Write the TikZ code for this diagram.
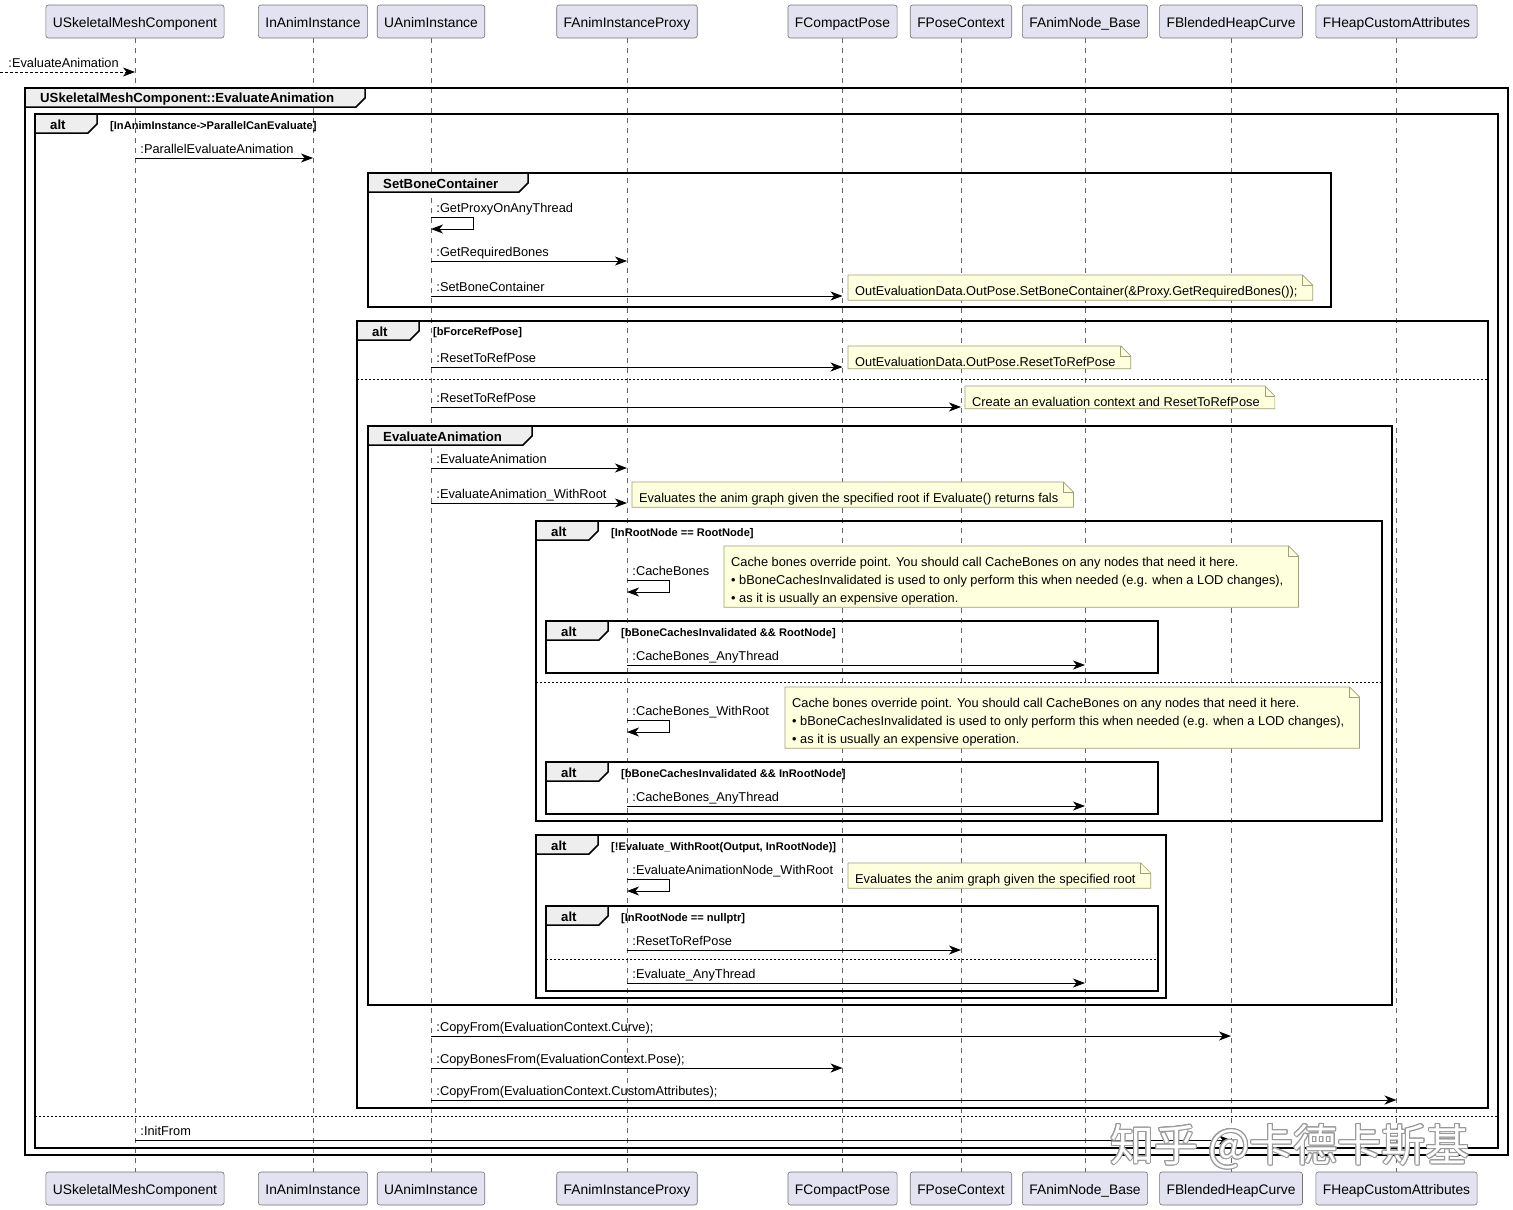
\documentclass[tikz,border=0pt]{standalone}
\usepackage{fontspec}
\setmainfont{Liberation Sans}
\newfontfamily\cjkfont{Noto Sans CJK SC}
\usepackage{contour}
\usetikzlibrary{arrows.meta}

\definecolor{partfill}{HTML}{E2E2F0}
\definecolor{notefill}{HTML}{FEFFDD}
\definecolor{notedraw}{HTML}{A0A078}
\definecolor{tabfill}{HTML}{EEEEEE}

\pgfdeclarelayer{lines}
\pgfdeclarelayer{notes}
\pgfsetlayers{lines,notes,main}

\newcommand{\partfont}{\fontsize{13.8}{16}\selectfont}
\newcommand{\msgfont}{\fontsize{12.8}{15}\selectfont}
\newcommand{\notefont}{\fontsize{12.8}{18}\selectfont}
\newcommand{\tabfont}{\bfseries\fontsize{13.2}{15}\selectfont}
\newcommand{\condfont}{\bfseries\fontsize{11.1}{13}\selectfont}

\tikzset{
    part/.style={draw=black!55, line width=0.6pt, fill=partfill, rounded corners=2.5pt, minimum height=33pt, inner xsep=7pt, inner ysep=0pt, text height=13pt, text depth=1pt, font=\partfont},
    lifeline/.style={draw=black!60, line width=0.7pt, dash pattern=on 5pt off 5pt},
    msg/.style={-{Stealth[length=12pt, width=9pt, inset=3.5pt]}, line width=0.9pt},
    lbl/.style={anchor=base west, inner sep=0pt, xshift=5pt, yshift=5pt, font=\msgfont},
    grpframe/.style={line width=1.5pt},
    grptab/.style={line width=1.5pt, fill=tabfill},
    tablabel/.style={anchor=west, inner sep=0pt, font=\tabfont},
    cond/.style={anchor=west, inner sep=0pt, yshift=-1.5pt, font=\condfont},
    elseline/.style={line width=0.8pt, dash pattern=on 2pt off 2pt},
    note/.style={anchor=north west, inner xsep=7pt, inner ysep=6.5pt, yshift=-4.5pt, align=left, font=\notefont},
    notebox/.style={draw=notedraw, line width=0.7pt, fill=notefill},
}

\newcommand{\grouptab}[5]{%
    \draw [grptab] (#1,#2) -- ++(#3,0) -- ++(0,10) -- ++(-9,9) -- (#1,#2+19) -- cycle;
    \node [tablabel] (#4) at (#1+15,#2+11) {#5};}

\newcommand{\dogear}[1]{%
    \begin{pgfonlayer}{notes}
        \draw [notebox] ([yshift=4.5pt]#1.south west) -- ([yshift=4.5pt]#1.north west) -- ([xshift=-2pt,yshift=4.5pt]#1.north east) -- ([xshift=8pt,yshift=-5.5pt]#1.north east) -- ([xshift=8pt,yshift=4.5pt]#1.south east) -- cycle;
        \draw [notebox, fill=none] ([xshift=-2pt,yshift=4.5pt]#1.north east) |- ([xshift=8pt,yshift=-5.5pt]#1.north east);
    \end{pgfonlayer}}

\contourlength{1pt}

\begin{document}
\begin{tikzpicture}[x=1pt, y=-1pt]
    \useasboundingbox (0,0) rectangle (1513,1210);

    \node [part] (mesh) at (135,21.5) {USkeletalMeshComponent};
    \node [part] (inst) at (313,21.5) {InAnimInstance};
    \node [part] (anim) at (431,21.5) {UAnimInstance};
    \node [part] (proxy) at (627,21.5) {FAnimInstanceProxy};
    \node [part] (pose) at (842.5,21.5) {FCompactPose};
    \node [part] (ctx) at (961,21.5) {FPoseContext};
    \node [part] (anode) at (1085,21.5) {FAnimNode\_Base};
    \node [part] (curve) at (1231,21.5) {FBlendedHeapCurve};
    \node [part] (attr) at (1396.5,21.5) {FHeapCustomAttributes};

    \node [part] (meshb) at (135,1188.5) {USkeletalMeshComponent};
    \node [part] (instb) at (313,1188.5) {InAnimInstance};
    \node [part] (animb) at (431,1188.5) {UAnimInstance};
    \node [part] (proxyb) at (627,1188.5) {FAnimInstanceProxy};
    \node [part] (poseb) at (842.5,1188.5) {FCompactPose};
    \node [part] (ctxb) at (961,1188.5) {FPoseContext};
    \node [part] (anodeb) at (1085,1188.5) {FAnimNode\_Base};
    \node [part] (curveb) at (1231,1188.5) {FBlendedHeapCurve};
    \node [part] (attrb) at (1396.5,1188.5) {FHeapCustomAttributes};

    \begin{pgfonlayer}{lines}
        \draw [lifeline] (mesh) -- (meshb);
        \draw [lifeline] (inst) -- (instb);
        \draw [lifeline] (anim) -- (animb);
        \draw [lifeline] (proxy) -- (proxyb);
        \draw [lifeline] (pose) -- (poseb);
        \draw [lifeline] (ctx) -- (ctxb);
        \draw [lifeline] (anode) -- (anodeb);
        \draw [lifeline] (curve) -- (curveb);
        \draw [lifeline] (attr) -- (attrb);
    \end{pgfonlayer}

    \coordinate (src) at (0,72);
    \draw [msg, dash pattern=on 3pt off 2pt] (src) -- node [lbl, pos=0, xshift=3pt] {:EvaluateAnimation} (mesh |- src);

    \draw [grpframe] (25,88) rectangle (1508,1155);
    \grouptab{25}{88}{340}{g0}{USkeletalMeshComponent::EvaluateAnimation}

    \draw [grpframe] (35,114) rectangle (1498,1148);
    \grouptab{35}{114}{62}{alt1}{alt}
    \node [cond] (c1) at (110,125) {[InAnimInstance->ParallelCanEvaluate]};
    \draw [elseline] (35,1116) -- (1498,1116);

    \draw [msg] (mesh |- 0,158) -- node [lbl, pos=0] {:ParallelEvaluateAnimation} (inst |- 0,158);

    \draw [grpframe] (368,173) rectangle (1331,307);
    \grouptab{368}{173}{160}{g1}{SetBoneContainer}

    \draw [msg] (anim |- 0,217) node [lbl] {:GetProxyOnAnyThread} -- ++(42,0) -- ++(0,12) -- (anim |- 0,229);
    \draw [msg] (anim |- 0,261) -- node [lbl, pos=0] {:GetRequiredBones} (proxy |- 0,261);
    \draw [msg] (anim |- 0,296) -- node [lbl, pos=0] {:SetBoneContainer} (pose |- 0,296);
    \node [note] (n1) at (848,275) {OutEvaluationData.OutPose.SetBoneContainer(\&Proxy.GetRequiredBones());};
    \dogear{n1}

    \draw [grpframe] (357,321) rectangle (1488,1108);
    \grouptab{357}{321}{62}{alt2}{alt}
    \node [cond] (c2) at (433,331) {[bForceRefPose]};
    \draw [elseline] (357,379) -- (1488,379);

    \draw [msg] (anim |- 0,367) -- node [lbl, pos=0] {:ResetToRefPose} (pose |- 0,367);
    \node [note] (n2) at (848,346) {OutEvaluationData.OutPose.ResetToRefPose};
    \dogear{n2}
    \draw [msg] (anim |- 0,407) -- node [lbl, pos=0] {:ResetToRefPose} (ctx |- 0,407);
    \node [note] (n3) at (965,386) {Create an evaluation context and ResetToRefPose};
    \dogear{n3}

    \draw [grpframe] (368,426) rectangle (1392,1005);
    \grouptab{368}{426}{164}{g2}{EvaluateAnimation}

    \draw [msg] (anim |- 0,468) -- node [lbl, pos=0] {:EvaluateAnimation} (proxy |- 0,468);
    \draw [msg] (anim |- 0,503) -- node [lbl, pos=0] {:EvaluateAnimation\_WithRoot} (proxy |- 0,503);
    \node [note] (n4) at (632,482) {Evaluates the anim graph given the specified root if Evaluate() returns fals};
    \dogear{n4}

    \draw [grpframe] (536,521) rectangle (1382,821);
    \grouptab{536}{521}{62}{alt3}{alt}
    \node [cond] (c3) at (611,532) {[InRootNode == RootNode]};
    \draw [elseline] (536,682) -- (1382,682);

    \draw [msg] (proxy |- 0,580) node [lbl] {:CacheBones} -- ++(42,0) -- ++(0,12) -- (proxy |- 0,592);
    \node [note] (n5) at (724,546) {Cache bones override point. You should call CacheBones on any nodes that need it here.\\ \textbullet\ bBoneCachesInvalidated is used to only perform this when needed (e.g. when a LOD changes),\\ \textbullet\ as it is usually an expensive operation.};
    \dogear{n5}

    \draw [grpframe] (546,621) rectangle (1158,673);
    \grouptab{546}{621}{62}{alt4}{alt}
    \node [cond] (c4) at (621,632) {[bBoneCachesInvalidated \&\& RootNode]};
    \draw [msg] (proxy |- 0,665) -- node [lbl, pos=0] {:CacheBones\_AnyThread} (anode |- 0,665);

    \draw [msg] (proxy |- 0,720) node [lbl] {:CacheBones\_WithRoot} -- ++(42,0) -- ++(0,12) -- (proxy |- 0,732);
    \node [note] (n6) at (785,687) {Cache bones override point. You should call CacheBones on any nodes that need it here.\\ \textbullet\ bBoneCachesInvalidated is used to only perform this when needed (e.g. when a LOD changes),\\ \textbullet\ as it is usually an expensive operation.};
    \dogear{n6}

    \draw [grpframe] (546,762) rectangle (1158,814);
    \grouptab{546}{762}{62}{alt5}{alt}
    \node [cond] (c5) at (621,773) {[bBoneCachesInvalidated \&\& InRootNode]};
    \draw [msg] (proxy |- 0,806) -- node [lbl, pos=0] {:CacheBones\_AnyThread} (anode |- 0,806);

    \draw [grpframe] (536,835) rectangle (1166,998);
    \grouptab{536}{835}{62}{alt6}{alt}
    \node [cond] (c6) at (611,846) {[!Evaluate\_WithRoot(Output, InRootNode)]};

    \draw [msg] (proxy |- 0,879) node [lbl] {:EvaluateAnimationNode\_WithRoot} -- ++(42,0) -- ++(0,12) -- (proxy |- 0,891);
    \node [note] (n7) at (848,863) {Evaluates the anim graph given the specified root};
    \dogear{n7}

    \draw [grpframe] (546,906) rectangle (1158,991);
    \grouptab{546}{906}{62}{alt7}{alt}
    \node [cond] (c7) at (621,917) {[InRootNode == nullptr]};
    \draw [elseline] (546,959) -- (1158,959);

    \draw [msg] (proxy |- 0,950) -- node [lbl, pos=0] {:ResetToRefPose} (ctx |- 0,950);
    \draw [msg] (proxy |- 0,983) -- node [lbl, pos=0] {:Evaluate\_AnyThread} (anode |- 0,983);

    \draw [msg] (anim |- 0,1036) -- node [lbl, pos=0] {:CopyFrom(EvaluationContext.Curve);} (curve |- 0,1036);
    \draw [msg] (anim |- 0,1068) -- node [lbl, pos=0] {:CopyBonesFrom(EvaluationContext.Pose);} (pose |- 0,1068);
    \draw [msg] (anim |- 0,1100) -- node [lbl, pos=0] {:CopyFrom(EvaluationContext.CustomAttributes);} (attr |- 0,1100);

    \draw [msg] (mesh |- 0,1140) -- node [lbl, pos=0] {:InitFrom} (curve |- 0,1140);

    \node (wm) at (1290,1147) {\cjkfont\fontsize{44}{44}\selectfont\contour{black!40}{\textcolor{white}{知乎 @卡德卡斯基}}};

\end{tikzpicture}
\end{document}
